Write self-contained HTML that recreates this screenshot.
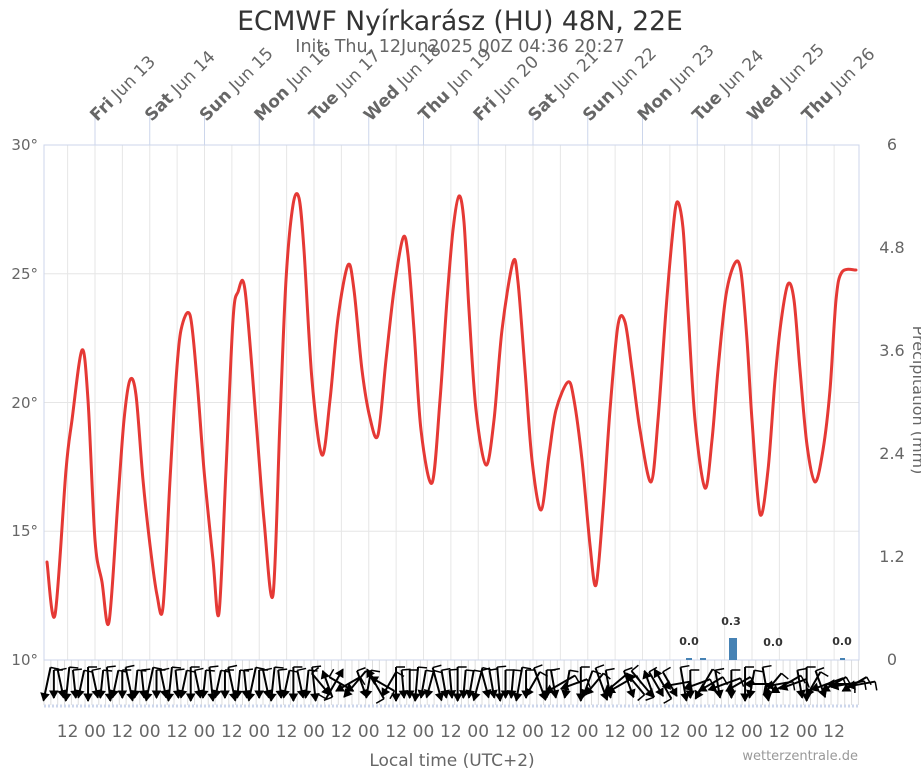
<!DOCTYPE html>
<html><head><meta charset="utf-8"><style>
body{margin:0;background:#fff;}
svg{display:block;font-family:"DejaVu Sans","Liberation Sans",sans-serif;}
</style></head><body>
<svg id="s" width="921" height="768" viewBox="0 0 921 768" xmlns="http://www.w3.org/2000/svg">
<text x="460" y="30" text-anchor="middle" font-size="26.5" fill="#333">ECMWF Nyírkarász (HU) 48N, 22E</text>
<text x="460" y="52" text-anchor="middle" font-size="17.5" fill="#666">Init: Thu, 12Jun2025 00Z 04:36 20:27</text>
<g id="grid"></g>
<rect x="44" y="145" width="815" height="515" fill="none" stroke="#ccd6eb" stroke-width="1"/>
<g font-size="15" fill="#666" text-anchor="end">
<text x="38" y="150">30°</text><text x="38" y="279">25°</text><text x="38" y="408">20°</text><text x="38" y="536">15°</text><text x="38" y="665">10°</text>
</g>
<g font-size="16" fill="#666" text-anchor="middle">
<text x="892" y="150">6</text><text x="892" y="253">4.8</text><text x="892" y="356">3.6</text><text x="892" y="459">2.4</text><text x="892" y="562">1.2</text><text x="892" y="665">0</text>
</g>
<text transform="translate(913,400) rotate(90)" text-anchor="middle" font-size="16" fill="#666">Precipitation (mm)</text>
<g id="days" font-size="17" fill="#666"></g>
<path id="curve" fill="none" stroke="#e53935" stroke-width="3" stroke-linejoin="round" stroke-linecap="round"/>
<g fill="#4682b4">
<rect x="729" y="638" width="8" height="22"/>
<rect x="686" y="658" width="6" height="2"/><rect x="700" y="658" width="6" height="2"/><rect x="840" y="658" width="5" height="2"/>
</g>
<g font-size="11" font-weight="bold" fill="#333" text-anchor="middle">
<text x="689" y="645">0.0</text><text x="731" y="625">0.3</text><text x="773" y="646">0.0</text><text x="842" y="645">0.0</text>
</g>
<g id="wind" stroke="#000" stroke-width="2" fill="#000"></g>
<g id="xl" font-size="17" fill="#666" text-anchor="middle"></g>
<text x="452" y="766" text-anchor="middle" font-size="17" fill="#666">Local time (UTC+2)</text>
<text x="858" y="760" text-anchor="end" font-size="13" fill="#999">wetterzentrale.de</text>
</svg>
<script>
var NS="http://www.w3.org/2000/svg";
function el(p,t,a,txt){var e=document.createElementNS(NS,t);for(var k in a)e.setAttribute(k,a[k]);if(txt)e.textContent=txt;document.getElementById(p).appendChild(e);return e;}
var d=54.75,x0=95;
for(var i=-1;i<28;i++){var x=x0+i*d/2;if(x<=44||x>=859)continue;el("grid","line",{x1:x,y1:145,x2:x,y2:660,stroke:"#e6e6e6","stroke-width":1});}
[273.75,402.5,531.25].forEach(function(y){el("grid","line",{x1:44,y1:y,x2:859,y2:y,stroke:"#e6e6e6"});});
for(var x=44;x<=859;x+=d/8){el("grid","line",{x1:x,y1:660,x2:x,y2:705,stroke:"#ddd"});}
el("grid","line",{x1:44,y1:706,x2:859,y2:706,stroke:"#ccd6eb","stroke-width":3,"stroke-dasharray":"2,2"});
var names=["Fri","Sat","Sun","Mon","Tue","Wed","Thu","Fri","Sat","Sun","Mon","Tue","Wed","Thu"];
for(var i=0;i<14;i++){var x=x0+i*d;
el("grid","line",{x1:x,y1:116,x2:x,y2:145,stroke:"#ccd6eb"});
var t=el("days","text",{transform:"translate("+(x+2)+",122) rotate(-45)"});
var b=document.createElementNS(NS,"tspan");b.setAttribute("font-weight","bold");b.textContent=names[i];t.appendChild(b);
var s=document.createElementNS(NS,"tspan");s.textContent=" Jun "+(13+i);t.appendChild(s);
}
for(var i=-1;i<28;i++){var x=x0+i*d/2;if(x<50||x>850)continue;el("xl","text",{x:x,y:737},(i%2)?"12":"00");}
var P=[[47,562],[55,615],[66,470],[72,420],[82,350],[88,400],[95,540],[102,582],[109,622],[118,500],[124,420],[130,380],[136,395],[143,480],[150,545],[157,595],[163,607],[170,480],[176,380],[181,330],[190,315],[197,380],[204,470],[213,560],[219,613],[226,470],[233,320],[238,292],[245,290],[256,420],[264,520],[273,595],[280,420],[286,280],[293,205],[299,198],[304,250],[312,380],[322,455],[330,400],[338,318],[348,265],[354,290],[362,370],[370,418],[378,435],[386,360],[394,290],[403,238],[408,255],[414,330],[421,430],[432,483],[440,400],[447,300],[453,230],[459,196],[464,222],[469,310],[476,410],[486,465],[494,420],[502,330],[513,262],[518,282],[525,370],[532,460],[541,510],[549,455],[556,410],[568,382],[574,400],[582,460],[590,545],[596,585],[603,510],[610,410],[618,325],[625,322],[632,370],[640,430],[651,482],[658,420],[666,310],[672,240],[677,202],[683,228],[688,310],[695,420],[705,488],[712,440],[718,370],[726,295],[735,263],[741,272],[747,340],[752,420],[760,514],[768,470],[775,380],[781,322],[788,284],[794,300],[800,370],[807,445],[815,482],[823,450],[830,390],[836,300],[842,272],[856,270]];
var dp="M"+P[0][0]+","+P[0][1];
for(var i=0;i<P.length-1;i++){var p0=P[Math.max(0,i-1)],p1=P[i],p2=P[i+1],p3=P[Math.min(P.length-1,i+2)];var k=0.16;
dp+=" C"+(p1[0]+(p2[0]-p0[0])*k)+","+(p1[1]+(p2[1]-p0[1])*k)+" "+(p2[0]-(p3[0]-p1[0])*k)+","+(p2[1]-(p3[1]-p1[1])*k)+" "+p2[0]+","+p2[1];}
document.getElementById("curve").setAttribute("d",dp);
var N=120,dirs=[];
var tail=[0,330,20,0,10,300,350,290,0,340,320,20,10,310,300,20,220,40,200,30,210,30,280,10,0,290,330,300,10,290,0,300,0,350,270,10,320,280,300,290,10,0,330,20,290,300,270,280,300,280];
for(var i=0;i<N;i++){var a;
if(i<40)a=((i*37)%5-2)*6;else if(i<52)a=[40,200,150,60,300,320,20,350,210,240,330,0][i-40];else if(i<70)a=((i*13)%7-3)*5;else a=tail[i-70]||0;
dirs.push(a);}
for(var i=0;i<N;i++){var x=47+i*d/8;if(x>862)break;var a=dirs[i]*Math.PI/180;var L=i%3==0?34:28;
var cx=x,cy=684;var ux=Math.sin(a),uy=Math.cos(a);
var tx=cx+ux*L/2,ty=cy+uy*L/2,sx=cx-ux*L/2,sy=cy-uy*L/2;
el("wind","line",{x1:sx,y1:sy,x2:tx,y2:ty});
el("wind","polygon",{points:tx+","+ty+" "+(tx-ux*7-uy*4)+","+(ty-uy*7+ux*4)+" "+(tx-ux*7+uy*4)+","+(ty-uy*7-ux*4),"stroke-width":1});
el("wind","line",{x1:sx,y1:sy,x2:sx+uy*9,y2:sy-ux*9,"stroke-width":1.5});
}
</script>
</body></html>
